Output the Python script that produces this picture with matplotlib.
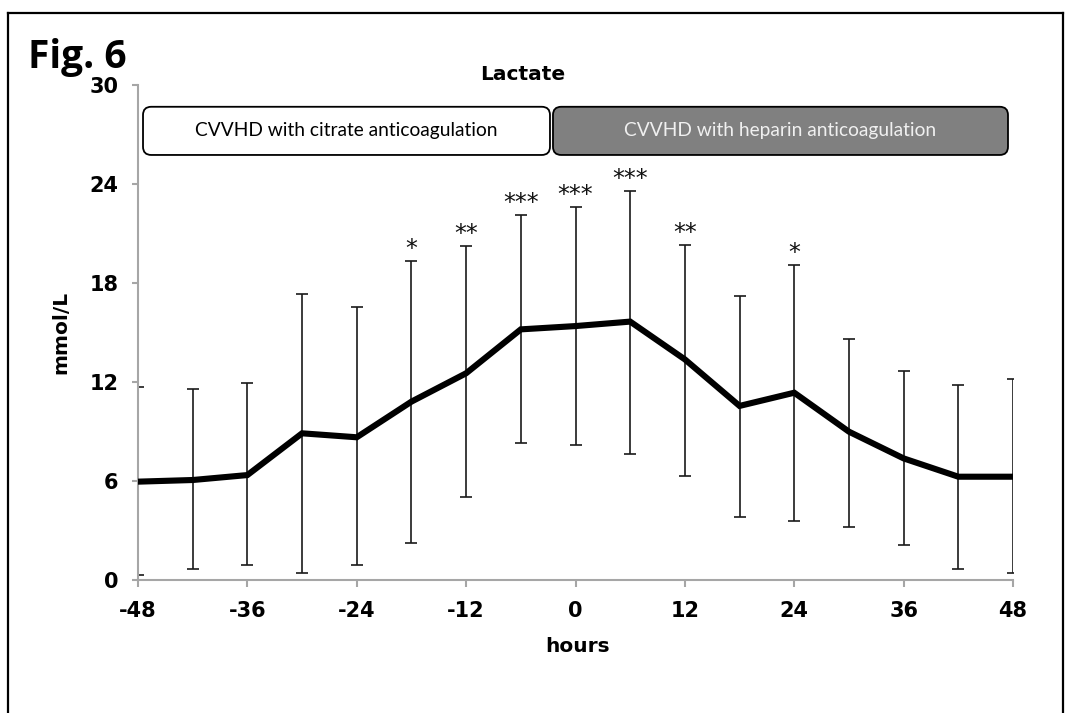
import numpy as np
import matplotlib
matplotlib.use("Agg")
import matplotlib.pyplot as plt
from matplotlib.patches import FancyBboxPatch
from matplotlib.lines import Line2D

# values
hours = [-48, -42, -36, -30, -24, -18, -12, -6, 0, 6, 12, 18, 24, 30, 36, 42, 48]
lactate = [5.96, 6.06, 6.36, 8.89, 8.65, 10.81, 12.53, 15.19, 15.39, 15.66,
           13.37, 10.55, 11.35, 8.99, 7.37, 6.26, 6.26]
upper = [11.68, 11.56, 11.92, 17.31, 16.53, 19.33, 20.24, 22.14, 22.59, 23.60,
         20.32, 17.21, 19.11, 14.59, 12.69, 11.80, 12.16]
lower = [0.30, 0.67, 0.89, 0.45, 0.89, 2.22, 5.05, 8.28, 8.18, 7.64,
         6.30, 3.80, 3.60, 3.23, 2.10, 0.67, 0.45]
stars = ['', '', '', '', '', '*', '**', '***', '***', '***',
         '**', '', '*', '', '', '', '']

xticks = [-48, -36, -24, -12, 0, 12, 24, 36, 48]
yticks = [0, 6, 12, 18, 24, 30]

W, H = 1070, 713
fig = plt.figure(figsize=(W / 100, H / 100), dpi=100)
ax = fig.add_axes([138 / W, 1 - 580 / H, 875 / W, 495 / H])

mean = np.array(lactate)
yerr = [mean - np.array(lower), np.array(upper) - mean]
ax.errorbar(hours, mean, yerr=yerr, fmt='none', ecolor='#1a1a1a',
            elinewidth=1.2, capsize=4.5, capthick=1.2, zorder=2)
ax.plot(hours, mean, color='black', lw=4.4, solid_joinstyle='miter', zorder=3)

for x, u, s in zip(hours, upper, stars):
    if s:
        ax.annotate(s, (x, u), xytext=(0, 0), textcoords='offset points',
                    ha='center', va='bottom', fontsize=17, color='#111111')

ax.set_xlim(-48, 48)
ax.set_ylim(0, 30)
ax.set_xticks(xticks)
ax.set_yticks(yticks)
ax.set_xticklabels([str(t) for t in xticks], fontsize=15, fontweight='bold')
ax.set_yticklabels([str(t) for t in yticks], fontsize=15, fontweight='bold')
for side in ['top', 'right']:
    ax.spines[side].set_visible(False)
for side in ['left', 'bottom']:
    ax.spines[side].set_color('#a6a6a6')
    ax.spines[side].set_linewidth(1.5)
ax.tick_params(axis='x', direction='out', length=5, width=1.5, color='#a6a6a6', pad=10)
ax.tick_params(axis='y', direction='out', length=4, width=1.5, color='#a6a6a6', pad=10)

ax.set_xlabel('hours', fontsize=14.5, fontweight='bold')
ax.set_ylabel('mmol/L', fontsize=14.5, fontweight='bold')
ax.xaxis.set_label_coords(0.502, -0.116)
ax.yaxis.set_label_coords(-0.077, 0.501)

# treatment phase banners
asp = (1 / 16.5) / (1 / 9.115)
box1 = FancyBboxPatch((-47.45, 25.76), 44.65, 2.92,
                      boxstyle='round,pad=0,rounding_size=0.9',
                      mutation_aspect=asp, fc='white', ec='black', lw=1.3,
                      clip_on=False, zorder=4)
box2 = FancyBboxPatch((-2.47, 25.76), 49.92, 2.92,
                      boxstyle='round,pad=0,rounding_size=0.9',
                      mutation_aspect=asp, fc='#808080', ec='black', lw=1.3,
                      clip_on=False, zorder=4)
ax.add_patch(box1)
ax.add_patch(box2)
ax.text((-47.45 - 2.8) / 2, 27.22, 'CVVHD with citrate anticoagulation',
        ha='center', va='center', fontsize=13.8, family='Lato', color='black', zorder=5)
ax.text((-2.47 + 47.45) / 2, 27.22, 'CVVHD with heparin anticoagulation',
        ha='center', va='center', fontsize=13.8, family='Lato', color='#f0f0f0', zorder=5)

fig.text(523 / W, 1 - 75 / H, 'Lactate', ha='center', va='center',
         fontsize=14.5, fontweight='bold')
fig.text(28 / W, 1 - 68 / H, 'Fig. 6', ha='left', va='baseline',
         fontsize=28, fontweight='bold', family='Open Sans')

# outer frame
for xs, ys in [([7.5, 7.5], [0, 12.7]), ([7.5, 1063], [12.7, 12.7]), ([1063, 1063], [12.7, 0])]:
    fig.add_artist(Line2D([x / W for x in xs], [1 - y / H if y else 0 for y in ys],
                          color='black', lw=1.6, transform=fig.transFigure))

fig.savefig('out.png', dpi=100)
